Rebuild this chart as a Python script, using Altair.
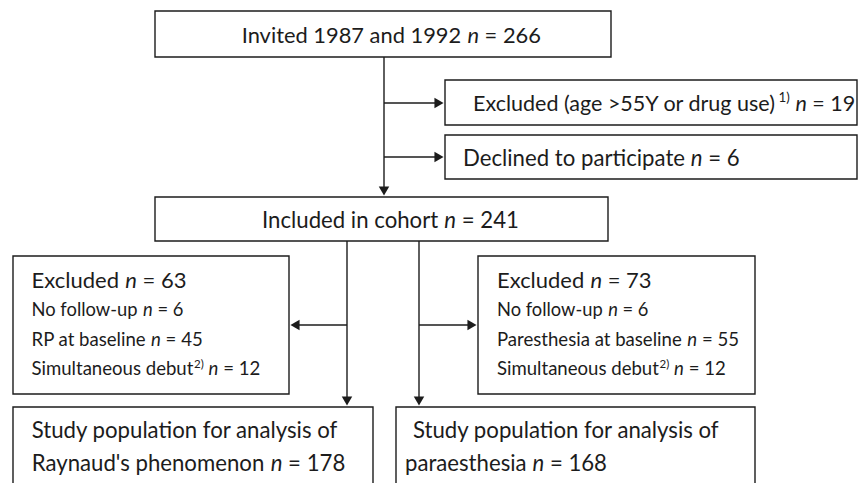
import os
import glob
import struct
import statistics
import altair as alt
import pandas as pd

FONT = "Lato"
INK = "#1c1c1c"

# ---- layout of the flowchart (page pixel coordinates) ----
box_x1 = [155, 445, 445, 155, 13, 478, 13, 396]
box_x2 = [611, 857, 857, 608, 289, 755, 373, 755]
box_y1 = [11, 80, 135, 197, 256, 256, 407, 407]
box_y2 = [57, 125, 179, 241, 394, 394, 500, 500]

line_x1 = [384, 384, 384, 347, 419, 347, 419]
line_y1 = [57, 103, 157, 241, 241, 325, 325]
line_x2 = [384, 440, 440, 347, 419, 294, 473]
line_y2 = [192, 103, 157, 402, 402, 325, 325]

head_x = [384, 439, 439, 347, 419, 295, 472]
head_y = [191, 103, 157, 401, 401, 325, 325]
head_shape = ["triangle-down", "triangle-right", "triangle-right",
              "triangle-down", "triangle-down", "triangle-left", "triangle-right"]

# ---- text lines containing an italic n ----
prefix = ["Invited 1987 and 1992", "Excluded (age >55Y or drug use)", "Declined to participate",
          "Included in cohort", "Excluded", "No follow-up", "RP at baseline", "Simultaneous debut",
          "Excluded", "No follow-up", "Paresthesia at baseline", "Simultaneous debut",
          "Raynaud's phenomenon", "paraesthesia"]
sup = ["", "1)", "", "", "", "", "", "2)", "", "", "", "2)", "", ""]
suffix = ["= 266", "= 19", "= 6", "= 241", "= 63", "= 6", "= 45", "= 12",
          "= 73", "= 6", "= 55", "= 12", "= 178", "= 168"]
line_start = [241.7, 473, 463, 262, 31.5, 31.5, 31.5, 31.5, 497, 497, 497, 497, 31.7, 405]
line_end = [538, 851, 745, 535, 185, 182, 202, 262, 650, 647, 740, 728, 350, 605]
base_y = [43, 111, 166, 228, 288, 316, 346, 375, 288, 316, 346, 375, 471, 471]
big_line = [1, 1, 1, 1, 1, 0, 0, 0, 1, 0, 0, 0, 1, 1]

plain_text = ["Study population for analysis of", "Study population for analysis of"]
plain_start = [31.7, 413]
plain_end = [343, 727]
plain_y = [438, 438]


# ---- font metrics (for placing the italic n inside each line) ----
def find_font(name):
    roots = ["/usr/share/fonts", "/usr/local/share/fonts",
             os.path.expanduser("~/.fonts"), os.path.expanduser("~/.local/share/fonts")]
    for r in roots:
        hits = glob.glob(os.path.join(r, "**", name), recursive=True)
        if hits:
            return hits[0]
    return None


def make_measure(path):
    if not path:
        return lambda s: 0.52 * len(s)
    try:
        data = open(path, "rb").read()
        num = struct.unpack(">H", data[4:6])[0]
        tables = {}
        for i in range(num):
            tag, _, off, ln = struct.unpack(">4sIII", data[12 + 16 * i:28 + 16 * i])
            tables[tag.decode("latin1")] = off
        upem = struct.unpack(">H", data[tables["head"] + 18:tables["head"] + 20])[0]
        nhm = struct.unpack(">H", data[tables["hhea"] + 34:tables["hhea"] + 36])[0]
        ho = tables["hmtx"]
        adv = [struct.unpack(">H", data[ho + 4 * i:ho + 4 * i + 2])[0] for i in range(nhm)]
        co = tables["cmap"]
        nsub = struct.unpack(">H", data[co + 2:co + 4])[0]
        sub = None
        for i in range(nsub):
            pid, eid, so = struct.unpack(">HHI", data[co + 4 + 8 * i:co + 12 + 8 * i])
            fmt = struct.unpack(">H", data[co + so:co + so + 2])[0]
            if fmt == 4 and pid in (0, 3):
                sub = co + so
                break
        seg2 = struct.unpack(">H", data[sub + 6:sub + 8])[0]
        seg = seg2 // 2
        ends = struct.unpack(">%dH" % seg, data[sub + 14:sub + 14 + seg2])
        starts = struct.unpack(">%dH" % seg, data[sub + 16 + seg2:sub + 16 + 2 * seg2])
        deltas = struct.unpack(">%dh" % seg, data[sub + 16 + 2 * seg2:sub + 16 + 3 * seg2])
        rpos = sub + 16 + 3 * seg2
        roffs = struct.unpack(">%dH" % seg, data[rpos:rpos + seg2])

        def gid(c):
            for i in range(seg):
                if starts[i] <= c <= ends[i]:
                    if roffs[i] == 0:
                        return (c + deltas[i]) & 0xFFFF
                    a = rpos + 2 * i + roffs[i] + 2 * (c - starts[i])
                    g = struct.unpack(">H", data[a:a + 2])[0]
                    return (g + deltas[i]) & 0xFFFF if g else 0
            return 0

        def measure(s):
            return sum(adv[min(gid(ord(ch)), nhm - 1)] for ch in s) / upem
        return measure
    except Exception:
        return lambda s: 0.52 * len(s)


W = make_measure(find_font("Lato-Regular.ttf"))
WI = make_measure(find_font("Lato-Italic.ttf"))
SUPR = 0.62


def unit_width(p, s, sf):
    return W(p) + SUPR * W(s) + W(" ") + WI("n") + W(" ") + W(sf)


# font sizes fitted so that the lines span about the same width as in the figure
ratios_big, ratios_small, line_fit = [], [], []
for p, s, sf, a, b, big in zip(prefix, sup, suffix, line_start, line_end, big_line):
    r = (b - a) / unit_width(p, s, sf)
    line_fit.append(r)
    (ratios_big if big else ratios_small).append(r)
for t, a, b in zip(plain_text, plain_start, plain_end):
    ratios_big.append((b - a) / W(t))
BIG = statistics.median(ratios_big)
SMALL = statistics.median(ratios_small)

# ---- tables ----
boxes = pd.DataFrame({"x1": box_x1, "x2": box_x2, "y1": box_y1, "y2": box_y2})
lines = pd.DataFrame({"x1": line_x1, "x2": line_x2, "y1": line_y1, "y2": line_y2})
heads = pd.DataFrame({"x": head_x, "y": head_y, "shape": head_shape})

rows = []
for p, s, sf, a, by, big, fit in zip(prefix, sup, suffix, line_start, base_y, big_line, line_fit):
    fs = min(BIG if big else SMALL, fit * 1.01)
    sfs = SUPR * fs
    sx = a + W(p) * fs + 0.5
    nx = a + (W(p) + W(" ")) * fs + (W(s) * sfs + 0.5 if s else 0)
    fx = nx + (WI("n") + W(" ")) * fs
    rows.append({"prefix": p, "sup": s, "suffix": sf, "y": by, "fs": fs, "sfs": sfs,
                 "px": a, "sx": sx, "sy": by - 0.40 * fs, "nx": nx, "fx": fx, "n": "n"})
tl = pd.DataFrame(rows)
plain = pd.DataFrame({"t": plain_text, "x": plain_start, "y": plain_y})

XS = alt.Scale(domain=[8, 858], nice=False, zero=False)
YS = alt.Scale(domain=[8, 483], nice=False, zero=False, reverse=True)


def X(f):
    return alt.X(f, type="quantitative", scale=XS, axis=None)


def Y(f):
    return alt.Y(f, type="quantitative", scale=YS, axis=None)


rects = alt.Chart(boxes).mark_rect(fill="white", stroke=INK, strokeWidth=1.4, clip=True).encode(
    x=X("x1"), x2="x2", y=Y("y1"), y2="y2")
rules = alt.Chart(lines).mark_rule(color=INK, strokeWidth=1.4).encode(
    x=X("x1"), x2="x2", y=Y("y1"), y2="y2")
arrow = alt.Chart(heads).mark_point(filled=True, color=INK, opacity=1, size=110).encode(
    x=X("x"), y=Y("y"), shape=alt.Shape("shape:N", scale=None))

common = dict(baseline="alphabetic", font=FONT, color=INK)
t_pre = alt.Chart(tl).mark_text(align="left", **common).encode(
    x=X("px"), y=Y("y"), text="prefix:N", size=alt.Size("fs:Q", scale=None))
t_sup = alt.Chart(tl).transform_filter("datum.sup != ''").mark_text(
    align="left", **common).encode(x=X("sx"), y=Y("sy"), text="sup:N",
                                   size=alt.Size("sfs:Q", scale=None))
t_n = alt.Chart(tl).mark_text(align="left", fontStyle="italic", **common).encode(
    x=X("nx"), y=Y("y"), text="n:N", size=alt.Size("fs:Q", scale=None))
t_suf = alt.Chart(tl).mark_text(align="left", **common).encode(
    x=X("fx"), y=Y("y"), text="suffix:N", size=alt.Size("fs:Q", scale=None))
t_plain = alt.Chart(plain).mark_text(align="left", fontSize=BIG, **common).encode(
    x=X("x"), y=Y("y"), text="t:N")

chart = alt.layer(rules, rects, arrow, t_pre, t_sup, t_n, t_suf, t_plain).properties(
    width=850, height=475, autosize=alt.AutoSizeParams(type="none"), padding=0,
    background="white"
).configure_view(stroke=None)

chart.save("out.html", embed_options={"renderer": "svg", "actions": False})
